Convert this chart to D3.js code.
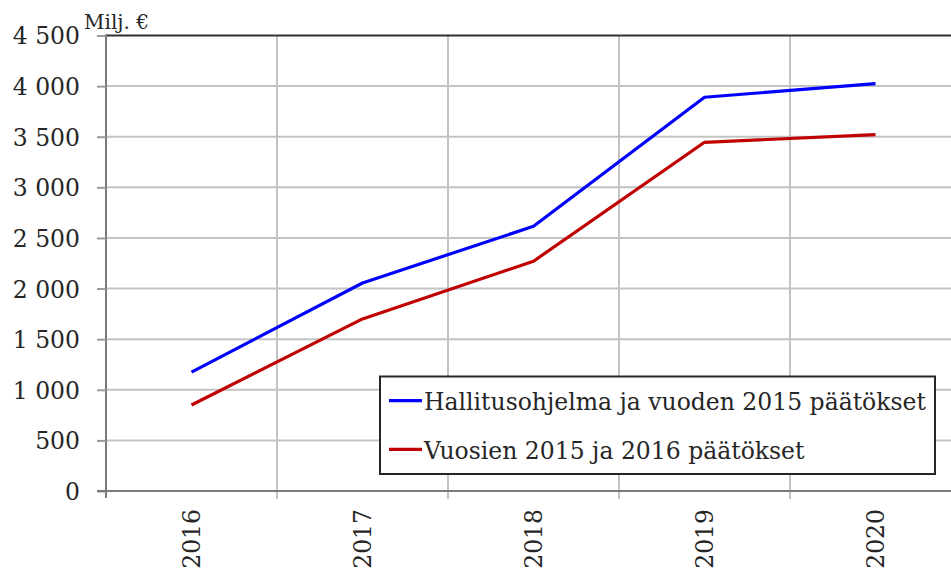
<!DOCTYPE html>
<html>
<head>
<meta charset="utf-8">
<script src="https://cdn.jsdelivr.net/npm/d3@7"></script>
<style>
  html, body { margin: 0; padding: 0; background: #fff; }
  svg { display: block; }
  text { font-family: "DejaVu Serif", serif; fill: #262626; }
</style>
</head>
<body>
<svg id="chart" width="951" height="572"></svg>
<script>
// ---- data ----
const years = ["2016", "2017", "2018", "2019", "2020"];
const seriesNames = ["Hallitusohjelma ja vuoden 2015 päätökset", "Vuosien 2015 ja 2016 päätökset"];
const hallitusohjelma = [1175, 2055, 2615, 3890, 4025];
const vuosien = [850, 1700, 2270, 3445, 3520];
const yTicks = [0, 500, 1000, 1500, 2000, 2500, 3000, 3500, 4000, 4500];
const seriesColors = ["#0000ff", "#c00000"];
const unitLabel = "Milj. €";

// ---- layout ----
const svg = d3.select("#chart");
const pLeft = 106, pRight = 961, pTop = 35.5, pBottom = 491;

const x = d3.scaleBand().domain(years).range([pLeft, pRight]).paddingInner(0).paddingOuter(0);
const y = d3.scaleLinear().domain([0, 4500]).range([pBottom, pTop]);
const fmt = d3.formatLocale({ decimal: ",", thousands: " ", grouping: [3] }).format(",d");

const fontSize = 23.5;

// horizontal gridlines
svg.append("g").selectAll("line").data(yTicks.filter(d => d > 0 && d < 4500)).join("line")
  .attr("x1", pLeft).attr("x2", pRight)
  .attr("y1", d => y(d)).attr("y2", d => y(d))
  .attr("stroke", "#c3c3c3").attr("stroke-width", 2);

// vertical gridlines
const boundaries = years.map(d => x(d)).concat([x(years[years.length - 1]) + x.bandwidth()]);
svg.append("g").selectAll("line").data(boundaries.slice(1)).join("line")
  .attr("x1", d => d).attr("x2", d => d)
  .attr("y1", pTop).attr("y2", pBottom + 8)
  .attr("stroke", "#c3c3c3").attr("stroke-width", 2);

// top border
svg.append("line").attr("x1", pLeft - 1).attr("x2", pRight).attr("y1", pTop).attr("y2", pTop)
  .attr("stroke", "#303030").attr("stroke-width", 2.2);

// y axis
const yAxis = svg.append("g").attr("transform", `translate(${pLeft},0)`)
  .call(d3.axisLeft(y).tickValues(yTicks).tickSize(9).tickPadding(17).tickFormat(fmt));
yAxis.select(".domain").attr("stroke", "#7a7a7a").attr("stroke-width", 2)
  .attr("d", `M0,${pTop}V${pBottom + 7}`);
yAxis.selectAll(".tick line").attr("stroke", "#9a9a9a").attr("stroke-width", 2);
yAxis.selectAll(".tick text").attr("font-size", fontSize).attr("font-family", "DejaVu Serif")
  .attr("fill", "#262626").attr("dy", "0.36em");

// x axis line
svg.append("line").attr("x1", pLeft - 9).attr("x2", pRight).attr("y1", pBottom).attr("y2", pBottom)
  .attr("stroke", "#7a7a7a").attr("stroke-width", 2);

// x labels
svg.append("g").selectAll("text").data(years).join("text")
  .attr("transform", d => `translate(${x(d) + x.bandwidth() / 2},509) rotate(-90)`)
  .attr("text-anchor", "end").attr("dy", "0.36em")
  .attr("font-size", fontSize)
  .text(d => d);

// unit label
svg.append("text").attr("x", 84).attr("y", 28.5).attr("font-size", 20).text(unitLabel);

// lines
const line = d3.line().x((d, i) => x(years[i]) + x.bandwidth() / 2).y(d => y(d));
[hallitusohjelma, vuosien].forEach((s, i) => {
  svg.append("path").datum(s).attr("d", line)
    .attr("fill", "none").attr("stroke", seriesColors[i]).attr("stroke-width", 3.2)
    .attr("stroke-linejoin", "round");
});

// legend
const lg = svg.append("g");
lg.append("rect").attr("x", 380).attr("y", 376.5).attr("width", 555).attr("height", 97.5)
  .attr("fill", "#fff").attr("stroke", "#262626").attr("stroke-width", 2);
seriesNames.forEach((n, i) => {
  const cy = 400.7 + i * 48.6;
  lg.append("line").attr("x1", 389).attr("x2", 422).attr("y1", cy).attr("y2", cy)
    .attr("stroke", seriesColors[i]).attr("stroke-width", 3.2);
  lg.append("text").attr("x", 424).attr("y", cy + 9.3).attr("font-size", fontSize).text(n);
});
</script>
</body>
</html>
